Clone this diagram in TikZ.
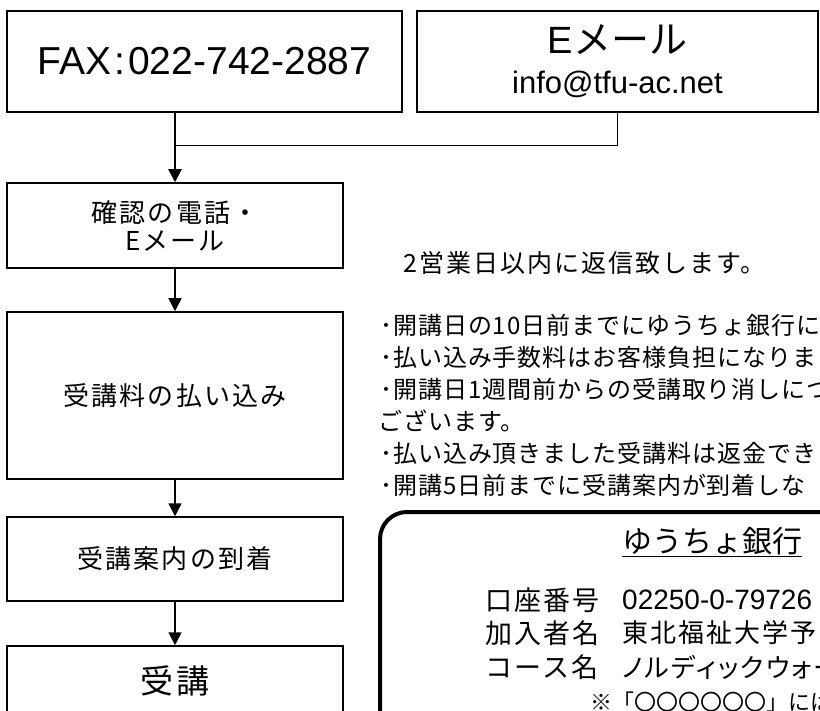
\documentclass[tikz,border=0pt]{standalone}
\usepackage{fontspec}
\setmainfont{Liberation Sans}
\newfontfamily\cjk{Noto Sans CJK JP}[LetterSpace=8]
\newfontfamily\cjknarrow{Noto Sans CJK JP}[LetterSpace=4]
\newfontfamily\cjkprop{Noto Sans CJK JP}[RawFeature=+palt, LetterSpace=8]
\newfontfamily\cjktight{Noto Sans CJK JP}
\usepackage{tikz}
\usetikzlibrary{positioning}
\usetikzlibrary{arrows.meta}
\tikzset{topbox/.style={draw, line width=1.5pt, inner sep=0pt, minimum height=101pt, align=center}}
\tikzset{stepbox/.style={draw, line width=1.5pt, inner sep=0pt, minimum width=336pt, align=center, font=\fontsize{26}{28}\cjk}}
\tikzset{noteline/.style={anchor=west, inner sep=0pt, font=\fontsize{24}{26}\cjknarrow}}
\tikzset{banklabel/.style={anchor=west, inner sep=0pt, font=\fontsize{27}{30}\cjk}}
\tikzset{flowarrow/.style={->, line width=1.5pt, >={Triangle[width=13pt,length=13pt]}}}

\begin{document}
\begin{tikzpicture}[x=1pt, y=-1pt]

\useasboundingbox (0,0) rectangle (820,711);
\clip (0,0) rectangle (820,711);

\node[topbox, minimum width=395pt] (fax) at (204.5, 61.5) {\fontsize{39}{42}\selectfont FAX\kern3pt:\kern3pt022-742-2887};
\node[topbox, minimum width=401pt] (email) at (617.5, 61.5) {{\fontsize{38}{40}\selectfont E{\cjktight メール}}\\[15pt]{\fontsize{31}{34}\selectfont info@tfu-ac.net}};

\node[stepbox, minimum height=85pt] (confirm) at (175, 225.5) {確認の電話・\\Eメール};
\node[stepbox, minimum height=167pt] (payment) at (175, 395.5) {受講料の払い込み};
\node[stepbox, minimum height=84pt] (guide) at (175, 559) {受講案内の到着};
\node[stepbox, minimum height=70pt, font=\fontsize{33}{36}\cjk] (attend) at (175, 681) {受講};

\coordinate (join) at (175, 145);

\draw[line width=0.8pt] (email.south) |- (join);
\draw[flowarrow, line width=2.2pt] (fax.south -| confirm.north) to (confirm.north);
\draw[flowarrow] (confirm.south) to (payment.north);
\draw[flowarrow] (payment.south) to (guide.north);
\draw[flowarrow] (guide.south) to (attend.north);

\node[anchor=west, inner sep=0pt, font=\fontsize{25}{28}\cjk] (reply) at (403, 263) {2営業日以内に返信致します。};

\node[noteline] (note1) at (380, 325) {･開講日の10日前までにゆうちょ銀行に};
\node[noteline] (note2) at (380, 357) {･払い込み手数料はお客様負担になりま};
\node[noteline] (note3) at (380, 389) {･開講日1週間前からの受講取り消しにつ};
\node[noteline] (note4) at (378, 421) {ございます。};
\node[noteline] (note5) at (380, 453) {･払い込み頂きました受講料は返金でき};
\node[noteline] (note6) at (380, 485) {･開講5日前までに受講案内が到着しな};

\draw[line width=4pt, rounded corners=27pt] (380, 780) |- (900, 512);

\node[anchor=west, inner sep=0pt, font=\fontsize{30}{34}\cjktight] (banktitle) at (622, 542) {\underline{ゆうちょ銀行}};

\node[banklabel] (account) at (485, 600) {口座番号};
\node[banklabel] (holder) at (485, 633) {加入者名};
\node[banklabel] (course) at (485, 667) {コース名};

\node[anchor=west, inner sep=0pt, font=\fontsize{28}{32}\selectfont] (accountno) at (622, 600) {02250-0-79726};
\node[anchor=west, inner sep=0pt, font=\fontsize{26}{30}\cjk] (holdername) at (622, 633) {東北福祉大学予};
\node[anchor=west, inner sep=0pt, font=\fontsize{26}{30}\cjkprop] (coursename) at (622, 667) {ノルディックウォー};
\node[anchor=west, inner sep=0pt, font=\fontsize{22}{26}\cjktight] (remark) at (590, 702) {※「〇〇〇〇〇〇」には};

\end{tikzpicture}
\end{document}
